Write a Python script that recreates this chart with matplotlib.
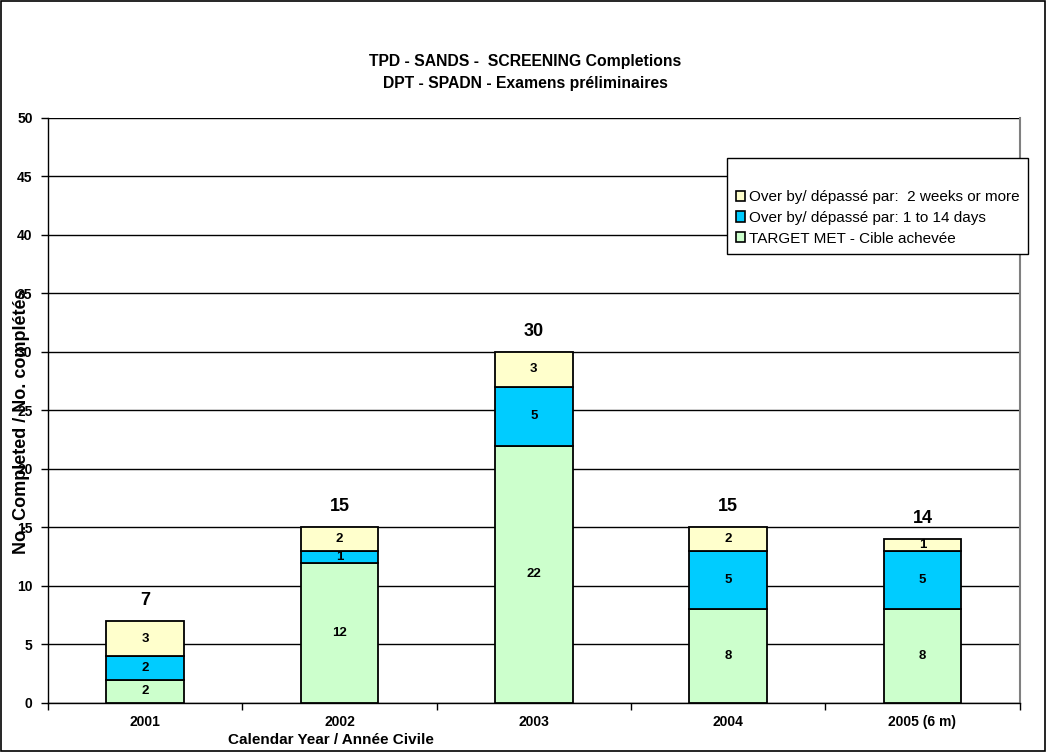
"""
Stacked bar chart of SCREENING completions by calendar year.
"""

import numpy as np
import matplotlib.pyplot as plt
from matplotlib.patches import Patch, Rectangle

plt.rcParams["font.family"] = ["Liberation Sans", "DejaVu Sans"]

years = ["2001", "2002", "2003", "2004", "2005 (6 m)"]
target_met = [2, 12, 22, 8, 8]
over_1_14 = [2, 1, 5, 5, 5]
over_2wk = [3, 2, 3, 2, 1]

series_labels = [
    "TARGET MET - Cible achevée",
    "Over by/ dépassé par: 1 to 14 days",
    "Over by/ dépassé par:  2 weeks or more",
]
series_colors = ["#CCFFCC", "#00CCFF", "#FFFFCC"]

fig = plt.figure(figsize=(10.47, 7.52), dpi=100)
fig.patches.append(Rectangle((0.0005, 0.0007), 0.998, 0.998, transform=fig.transFigure,
                             fill=False, edgecolor="black", linewidth=1.2))
ax = fig.add_axes([0.0458, 0.0652, 0.928, 0.778])

x = np.arange(len(years))
bottom = np.zeros(len(years))
for vals, color in zip([target_met, over_1_14, over_2wk], series_colors):
    vals = np.array(vals)
    ax.bar(x, vals, width=0.4, bottom=bottom, color=color,
           edgecolor="black", linewidth=1.3, zorder=3)
    for xi, b, v in zip(x, bottom, vals):
        ax.text(xi, b + v / 2, str(v), ha="center", va="center",
                fontsize=9.5, fontweight="bold", zorder=4)
    bottom += vals

for xi, tot in zip(x, bottom):
    ax.text(xi, tot + 1.75, str(int(tot)), ha="center", va="center",
            fontsize=13, fontweight="bold")

ax.set_xlim(-0.5, len(years) - 0.5)
ax.set_ylim(0, 50)
ax.set_yticks(np.arange(0, 51, 5))
ax.set_xticks(x)
ax.set_xticklabels(years, fontsize=10, fontweight="bold")
ax.set_xticks(np.arange(-0.5, len(years)), minor=True)
ax.tick_params(axis="x", which="major", length=0, pad=9)
ax.tick_params(axis="x", which="minor", length=5, width=1, color="black")
ax.tick_params(axis="y", length=5, width=1, pad=6, labelsize=10)
for lbl in ax.get_yticklabels():
    lbl.set_fontweight("bold")
ax.yaxis.grid(True, color="black", linewidth=1)
ax.set_axisbelow(True)

ax.spines["top"].set_visible(False)
ax.spines["right"].set_color("#808080")
ax.spines["right"].set_linewidth(1.5)
ax.spines["left"].set_linewidth(1)
ax.spines["bottom"].set_linewidth(1)

fig.text(0.502, 0.918, "TPD - SANDS -  SCREENING Completions", ha="center",
         va="center", fontsize=11.3, fontweight="bold")
fig.text(0.502, 0.889, "DPT - SPADN - Examens préliminaires", ha="center",
         va="center", fontsize=11.3, fontweight="bold")
fig.text(0.316, 0.016, "Calendar Year / Année Civile", ha="center",
         va="center", fontsize=11, fontweight="bold")
fig.text(0.021, 0.44, "No. Completed / No. complétés", ha="center",
         va="center", rotation=90, fontsize=13, fontweight="bold")

handles = [Patch(facecolor=c, edgecolor="black", linewidth=1.2)
           for c in series_colors]
leg = ax.legend(handles[::-1], series_labels[::-1], loc="upper left",
                bbox_to_anchor=(0.699, 0.932), borderaxespad=0, fontsize=11,
                title=" ", title_fontsize=13, handlelength=0.65, handleheight=0.65,
                handletextpad=0.25, borderpad=0.55, labelspacing=0.45,
                fancybox=False, edgecolor="black", framealpha=1)
leg.get_frame().set_linewidth(1)

fig.savefig("out.png", dpi=100)
